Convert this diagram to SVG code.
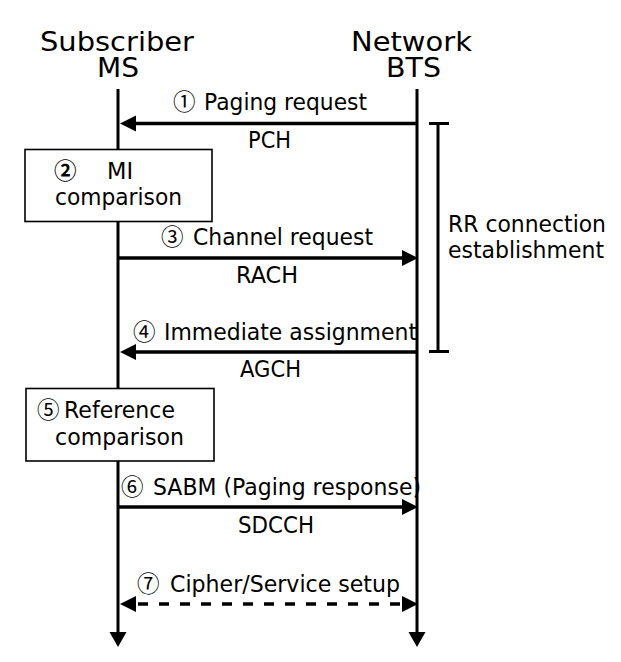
<svg xmlns="http://www.w3.org/2000/svg" width="621" height="662" viewBox="0 0 621 662">
<style>
text{font-family:"DejaVu Sans","Liberation Sans",sans-serif;fill:#000}
.h{font-size:26px}
.l{font-size:22.5px}
.c{font-family:"Noto Sans CJK JP","DejaVu Sans",sans-serif}
.ln{stroke:#000;stroke-width:3;fill:none}
.ar{stroke:#000;stroke-width:3.5;fill:none}
.dash{stroke-dasharray:10 11}
.box{fill:#fff;stroke:#000;stroke-width:1.6}
.hd{fill:#000;stroke:none}
</style>
<rect width="621" height="662" fill="#fff"/>
<g id="ms">
<text class="h" x="40" y="51" textLength="154" lengthAdjust="spacingAndGlyphs">Subscriber</text>
<text class="h" x="97" y="77" textLength="42" lengthAdjust="spacingAndGlyphs">MS</text>
</g>
<g id="bts">
<text class="h" x="351" y="51" textLength="121" lengthAdjust="spacingAndGlyphs">Network</text>
<text class="h" x="386" y="77" textLength="55" lengthAdjust="spacingAndGlyphs">BTS</text>
</g>
<g id="connectors">
<line class="ln" x1="118" y1="89" x2="118" y2="634"/>
<polygon class="hd" points="109.5,632 126.5,632 118,647"/>
<line class="ln" x1="417" y1="89" x2="417" y2="634"/>
<polygon class="hd" points="408.5,632 425.5,632 417,647"/>
<line class="ar" x1="417" y1="123.5" x2="134" y2="123.5"/>
<polygon class="hd" points="120,123.5 136,115.5 136,131.5"/>
<line class="ar" x1="118" y1="258" x2="403" y2="258"/>
<polygon class="hd" points="418,258 402,250 402,266"/>
<line class="ar" x1="417" y1="352" x2="134" y2="352"/>
<polygon class="hd" points="120,352 136,344 136,360"/>
<line class="ar" x1="118" y1="507" x2="403" y2="507"/>
<polygon class="hd" points="418,507 402,499 402,515"/>
<line class="ar dash" x1="138" y1="604" x2="400" y2="604"/>
<polygon class="hd" points="120,604 136,596 136,612"/>
<polygon class="hd" points="418,604 402,596 402,612"/>
</g>
<g id="bracket">
<line class="ln" x1="438" y1="123" x2="438" y2="352"/>
<line class="ln" x1="429" y1="123.5" x2="449" y2="123.5"/>
<line class="ln" x1="429" y1="351.5" x2="449" y2="351.5"/>
<text class="l" x="448" y="232" textLength="158" lengthAdjust="spacingAndGlyphs">RR connection</text>
<text class="l" x="448" y="258" textLength="156" lengthAdjust="spacingAndGlyphs">establishment</text>
</g>
<g id="msg1">
<text class="l" y="110"><tspan class="c" x="173">①</tspan><tspan x="204" textLength="163" lengthAdjust="spacingAndGlyphs">Paging request</tspan></text>
<text class="l" x="248" y="148" textLength="43" lengthAdjust="spacingAndGlyphs">PCH</text>
</g>
<g id="box2">
<rect class="box" x="25" y="149.5" width="187" height="72"/>
<text class="l" y="179"><tspan class="c" x="54" font-weight="bold">②</tspan><tspan x="107">MI</tspan></text>
<text class="l" x="55" y="205" textLength="127" lengthAdjust="spacingAndGlyphs">comparison</text>
</g>
<g id="msg3">
<text class="l" y="245"><tspan class="c" x="161">③</tspan><tspan x="193" textLength="180" lengthAdjust="spacingAndGlyphs">Channel request</tspan></text>
<text class="l" x="236" y="283" textLength="62" lengthAdjust="spacingAndGlyphs">RACH</text>
</g>
<g id="msg4">
<text class="l" y="340"><tspan class="c" x="133">④</tspan><tspan x="164" textLength="253" lengthAdjust="spacingAndGlyphs">Immediate assignment</tspan></text>
<text class="l" x="240" y="377" textLength="61" lengthAdjust="spacingAndGlyphs">AGCH</text>
</g>
<g id="box5">
<rect class="box" x="26" y="388.5" width="188" height="72.5"/>
<text class="l" y="418"><tspan class="c" x="37">⑤</tspan><tspan x="64" textLength="111" lengthAdjust="spacingAndGlyphs">Reference</tspan></text>
<text class="l" x="55" y="445" textLength="129" lengthAdjust="spacingAndGlyphs">comparison</text>
</g>
<g id="msg6">
<text class="l" y="495"><tspan class="c" x="121">⑥</tspan><tspan x="153" textLength="268" lengthAdjust="spacingAndGlyphs">SABM (Paging response)</tspan></text>
<text class="l" x="238" y="533" textLength="76" lengthAdjust="spacingAndGlyphs">SDCCH</text>
</g>
<g id="msg7">
<text class="l" y="592"><tspan class="c" x="137">⑦</tspan><tspan x="170" textLength="230" lengthAdjust="spacingAndGlyphs">Cipher/Service setup</tspan></text>
</g>
</svg>
